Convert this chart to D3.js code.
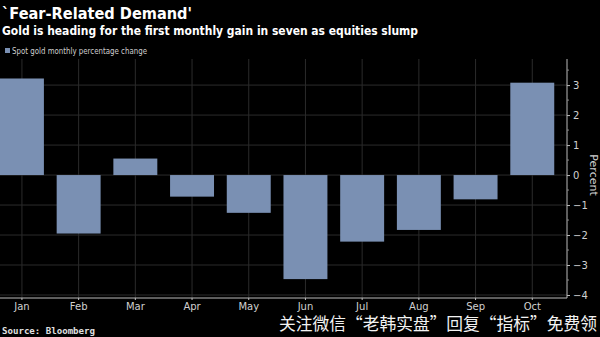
<!DOCTYPE html>
<html><head><meta charset="utf-8">
<script src="https://cdn.jsdelivr.net/npm/d3@7"></script>
<style>
html,body{margin:0;padding:0;background:#000;}
svg{display:block;}
</style></head>
<body>
<svg id="c" width="600" height="337"></svg>
<script>
const months = ["Jan","Feb","Mar","Apr","May","Jun","Jul","Aug","Sep","Oct"];
const goldChange = [3.22, -1.95, 0.55, -0.72, -1.26, -3.47, -2.22, -1.83, -0.81, 3.08];
const yTicks = [-4, -3, -2, -1, 0, 1, 2, 3];
const title = "`Fear-Related Demand'";
const subtitle = "Gold is heading for the first monthly gain in seven as equities slump";
const legendLabel = "Spot gold monthly percentage change";
const yLabel = "Percent";
const source = "Source: Bloomberg";
const watermark = "关注微信“老韩实盘”回复“指标”免费领";

const svg = d3.select("#c");
svg.append("rect").attr("width",600).attr("height",337).attr("fill","#000");

const plotRight = 567, plotTop = 59, plotBottom = 298;
const x = d3.scaleBand().domain(months).range([-12.8, plotRight]).paddingInner(0.225).paddingOuter(0.225);
const y = d3.scaleLinear().domain([-4.1, 3.87]).range([plotBottom, plotTop]);

const grid = svg.append("g");
grid.selectAll("line.h").data(yTicks).join("line")
  .attr("x1", 0).attr("x2", plotRight)
  .attr("y1", d => y(d)).attr("y2", d => y(d))
  .attr("stroke", "#2b2b2b").attr("stroke-width", 1);
grid.selectAll("line.v").data(months).join("line")
  .attr("x1", d => x(d) + x.bandwidth()/2).attr("x2", d => x(d) + x.bandwidth()/2)
  .attr("y1", plotTop).attr("y2", plotBottom)
  .attr("stroke", "#2b2b2b").attr("stroke-width", 1);

svg.append("g").selectAll("rect").data(goldChange).join("rect")
  .attr("x", (d,i) => x(months[i]))
  .attr("width", x.bandwidth())
  .attr("y", d => y(Math.max(0, d)))
  .attr("height", d => Math.abs(y(d) - y(0)))
  .attr("fill", "#7a90b3");

// y axis on right
const yAxis = d3.axisRight(y).tickValues(yTicks).tickSize(3).tickPadding(3).tickFormat(d3.format("d"));
const ya = svg.append("g").attr("transform", `translate(${plotRight},0)`).call(yAxis);
ya.select(".domain").attr("stroke", "#bbb").attr("d", `M0,${plotTop}V${plotBottom}`);
ya.selectAll(".tick line").attr("stroke", "#bbb");
ya.selectAll(".tick text").attr("fill", "#d0d0d0").attr("font-size", 10).attr("font-family", "DejaVu Sans");
const minor = d3.range(-4, 3.6, 0.5).filter(v => !yTicks.includes(v));
ya.selectAll("line.minor").data(minor).join("line")
  .attr("x1", 0).attr("x2", 2).attr("y1", d => y(d)).attr("y2", d => y(d))
  .attr("stroke", "#888");

// x axis
const xAxis = d3.axisBottom(x).tickSize(3).tickPadding(2);
const xa = svg.append("g").attr("transform", `translate(0,${plotBottom})`).call(xAxis);
xa.select(".domain").attr("stroke", "#bbb").attr("d", `M0,0H${plotRight}`);
xa.selectAll(".tick line").attr("stroke", "#bbb").attr("y2", 2);
xa.selectAll(".tick text").attr("fill", "#d0d0d0").attr("font-size", 10).attr("font-family", "DejaVu Sans");

svg.append("text").attr("transform", `translate(590,${y(0)}) rotate(90)`)
  .attr("text-anchor", "middle").attr("fill", "#d0d0d0")
  .attr("font-size", 11).attr("font-family", "DejaVu Sans").text(yLabel);

// titles
svg.append("text").attr("x", 2).attr("y", 19).attr("fill", "#fff")
  .attr("font-size", 16).attr("font-weight", "bold").attr("font-family", "DejaVu Sans")
  .attr("textLength", 190).attr("lengthAdjust", "spacingAndGlyphs").text(title);
svg.append("text").attr("x", 2).attr("y", 35).attr("fill", "#fff")
  .attr("font-size", 12).attr("font-weight", "bold").attr("font-family", "DejaVu Sans")
  .attr("textLength", 416).attr("lengthAdjust", "spacingAndGlyphs").text(subtitle);

// legend
svg.append("rect").attr("x", 5).attr("y", 48).attr("width", 5).attr("height", 5).attr("fill", "#7a90b3");
svg.append("text").attr("x", 12).attr("y", 54).attr("fill", "#cfcfcf")
  .attr("font-size", 8).attr("font-family", "DejaVu Sans")
  .attr("textLength", 135).attr("lengthAdjust", "spacingAndGlyphs").text(legendLabel);

// source
svg.append("text").attr("x", 2).attr("y", 334).attr("fill", "#e0e0e0")
  .attr("font-size", 9).attr("font-weight", "bold").attr("font-family", "DejaVu Sans Mono")
  .attr("textLength", 93).attr("lengthAdjust", "spacingAndGlyphs").text(source);

// watermark
svg.append("text").attr("x", 279).attr("y", 330).attr("fill", "#f2f2f2")
  .attr("font-size", 17).attr("font-family", "Noto Sans CJK SC")
  .attr("textLength", 318).attr("lengthAdjust", "spacingAndGlyphs").text(watermark);
</script>
</body></html>
